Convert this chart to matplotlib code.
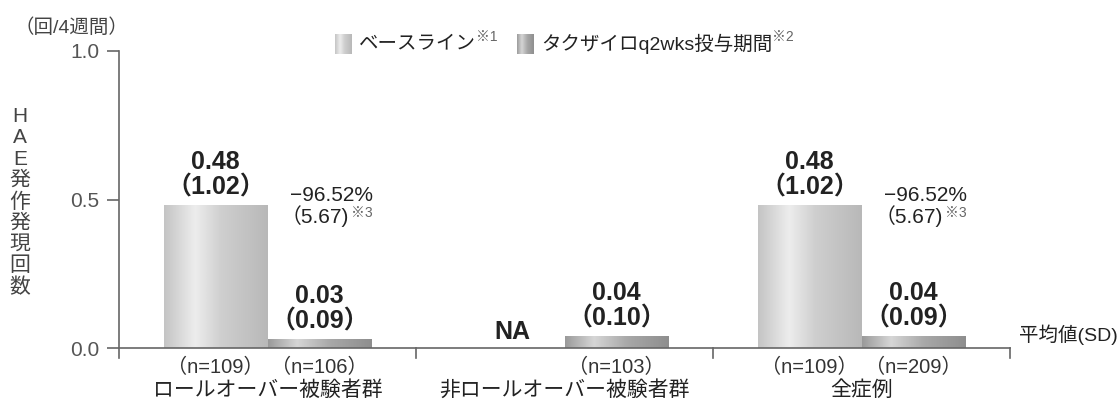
import numpy as np
import matplotlib.pyplot as plt
from matplotlib.colors import LinearSegmentedColormap

plt.rcParams['font.family'] = ['Liberation Sans', 'Noto Sans CJK JP', 'DejaVu Sans']

# data
groups = ["ロールオーバー被験者群", "非ロールオーバー被験者群", "全症例"]
baseline_mean = [0.48, None, 0.48]
baseline_sd = [1.02, None, 1.02]
baseline_n = [109, None, 109]
treat_mean = [0.03, 0.04, 0.04]
treat_sd = [0.09, 0.10, 0.09]
treat_n = [106, 103, 209]
change_pct = [-96.52, None, -96.52]
change_sd = [5.67, None, 5.67]

legend_labels = ["ベースライン", "タクザイロq2wks投与期間"]
legend_notes = ["※1", "※2"]

TXT = "#222222"
width = 0.35

# horizontal shading for the bars
cm_base = LinearSegmentedColormap.from_list(
    "base", [(0, "#c4c4c4"), (0.3, "#ededed"), (0.55, "#cfcfcf"), (1, "#b8b8b8")])
cm_treat = LinearSegmentedColormap.from_list(
    "treat", [(0, "#9a9a9a"), (0.28, "#d6d6d6"), (0.6, "#a8a8a8"), (1, "#8e8e8e")])


def shaded_bar(ax, x, h, cmap):
    bar = ax.bar(x, h, width=width, color="none", edgecolor="none")[0]
    grad = np.linspace(0, 1, 256).reshape(1, -1)
    im = ax.imshow(grad, cmap=cmap, aspect="auto", interpolation="bicubic",
                   extent=[x - width / 2, x + width / 2, 0, h], zorder=2)
    im.set_clip_path(bar)
    return bar


def value_label(ax, x, mean, sd):
    ax.annotate(f"{mean:.2f}\n（{sd:.2f}）", xy=(x, mean), xytext=(0, 4),
                textcoords="offset points", ha="center", va="bottom",
                fontsize=18, fontweight="bold", color=TXT, linespacing=1.08)


def note(text, anchor, dx, yfrac=0.5):
    # small reference mark placed right after another text
    return plt.Annotation(text, xy=(1, yfrac), xycoords=anchor, xytext=(dx, 0),
                          textcoords="offset points", ha="left", va="bottom",
                          fontsize=10, color="#666666")


fig = plt.figure(figsize=(11.19, 4.01), dpi=100)
ax = fig.add_axes([119 / 1119, 53 / 401, 891 / 1119, 297 / 401])

centers = np.arange(len(groups)) + 0.5
for i, c in enumerate(centers):
    xb = c - width / 2
    xt = c + width / 2
    if baseline_mean[i] is not None:
        shaded_bar(ax, xb, baseline_mean[i], cm_base)
        value_label(ax, xb, baseline_mean[i], baseline_sd[i])
        ax.text(xb, -0.064, f"（n={baseline_n[i]}）", transform=ax.get_xaxis_transform(),
                ha="center", va="center", fontsize=14.5, color="#333333")
    else:
        ax.annotate("NA", xy=(xb, 0), xytext=(0, 3), textcoords="offset points",
                    ha="center", va="bottom", fontsize=18, fontweight="bold", color=TXT)

    shaded_bar(ax, xt, treat_mean[i], cm_treat)
    value_label(ax, xt, treat_mean[i], treat_sd[i])
    ax.text(xt, -0.064, f"（n={treat_n[i]}）", transform=ax.get_xaxis_transform(),
            ha="center", va="center", fontsize=14.5, color="#333333")

    if change_pct[i] is not None:
        ax.text(c + 0.215, 0.515, f"−{abs(change_pct[i]):.2f}%", ha="center", va="center",
                fontsize=15, color=TXT)
        t = ax.text(c + 0.045, 0.444, f"（{change_sd[i]:.2f})", ha="left", va="center",
                    fontsize=15, color=TXT)
        ax.add_artist(note("※3", t, 1, yfrac=0.3))

    ax.text(c, -0.141, groups[i], transform=ax.get_xaxis_transform(),
            ha="center", va="center", fontsize=15, color=TXT)

# axes styling
ax.set_xlim(0, 3)
ax.set_ylim(0, 1.0)
ax.set_yticks([0, 0.5, 1.0])
ax.set_yticklabels(["0.0", "0.5", "1.0"])
ax.tick_params(axis="y", direction="out", length=9, width=1.2, colors="#666666",
               labelcolor="#555555", labelsize=15, pad=5)
ax.set_xticks([])
for s in ["top", "right", "bottom"]:
    ax.spines[s].set_visible(False)
ax.spines["left"].set_color("#666666")
ax.spines["left"].set_linewidth(1.2)
ax.spines["left"].set_bounds(-0.033, 1.0)

# baseline with group separators
ax.plot([0, 3], [0, 0], color="#666666", lw=1.2, clip_on=False, zorder=3)
for xs in [1, 2, 3]:
    ax.plot([xs, xs], [0, -0.033], color="#666666", lw=1.2, clip_on=False)

ax.set_facecolor("none")

# y label, stacked characters
ylab = "HAE発作発現回数"
fig.text(20 / 1119, 1 - 202 / 401, "\n".join(ylab), ha="center", va="center",
         fontsize=15, color="#444444", linespacing=1.15)
fig.text(15 / 1119, 1 - 28 / 401, "（回/4週間）", ha="left", va="center",
         fontsize=14, color="#444444")
fig.text(1118 / 1119, 1 - 335 / 401, "平均値(SD)", ha="right", va="center",
         fontsize=14, color=TXT)

# legend
grad = np.linspace(0, 1, 256).reshape(1, -1)
leg_x = [335, 517]
for lx, cmap, lab, mark in zip(leg_x, [cm_base, cm_treat], legend_labels, legend_notes):
    lax = fig.add_axes([lx / 1119, 1 - 54 / 401, 17 / 1119, 20 / 401])
    lax.imshow(grad, cmap=cmap, aspect="auto", interpolation="bicubic")
    lax.axis("off")
    t = fig.text((lx + 24) / 1119, 1 - 44 / 401, lab, ha="left", va="center",
                 fontsize=14, color=TXT)
    fig.add_artist(note(mark, t, 0))

fig.savefig("out.png", dpi=100)
